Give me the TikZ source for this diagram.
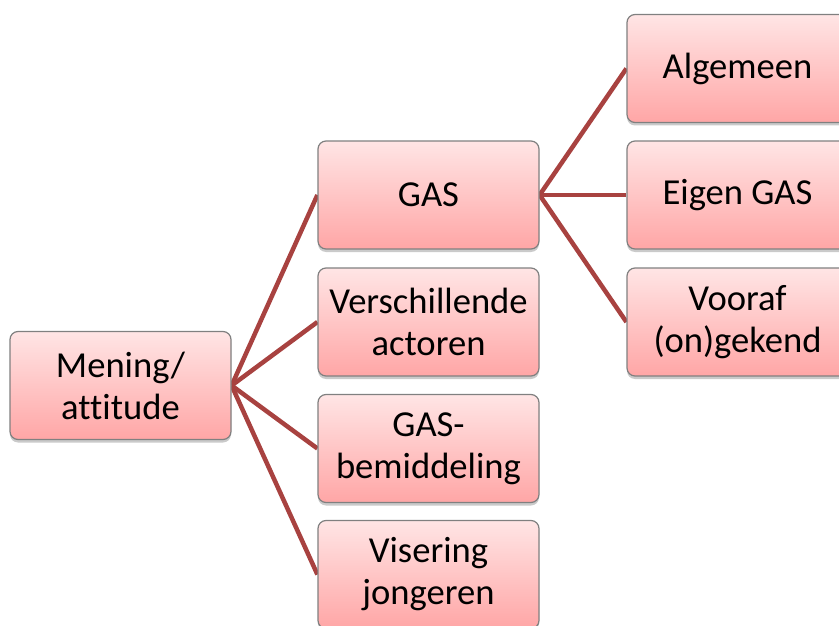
\documentclass[tikz,border=0pt]{standalone}
\usepackage{fontspec}
\setmainfont[Ligatures={NoCommon}]{Carlito}
\usetikzlibrary{shadows}
\pgfdeclarelayer{bg}
\pgfsetlayers{bg,main}
\definecolor{linkred}{RGB}{168,66,64}
\definecolor{boxtop}{RGB}{255,229,229}
\definecolor{boxbot}{RGB}{255,166,166}
\definecolor{boxedge}{RGB}{128,128,128}
\tikzset{
  box/.style={draw=boxedge, line width=1.2pt, rounded corners=8pt,
    top color=boxtop, bottom color=boxbot,
    minimum width=221pt, minimum height=108pt, inner sep=0pt,
    align=center, font=\fontsize{36.6}{42}\selectfont,
    drop shadow={shadow xshift=0pt, shadow yshift=-3pt, opacity=0.35, fill=black!60}},
  link/.style={draw=linkred, line width=4.5pt}
}
\begin{document}
\begin{tikzpicture}[x=1pt,y=-1pt]
\useasboundingbox (0,0) rectangle (839,626);
\clip (0,0) rectangle (839,626);
\node[box] (m) at (120.5,385.5) {Mening/\\attitude};
\node[box] (gas) at (428.5,195) {GAS};
\node[box] (va) at (428.5,322) {Verschillende\\actoren};
\node[box] (gb) at (428.5,448.5) {GAS-\\bemiddeling};
\node[box] (vj) at (428.5,574.5) {Visering\\jongeren};
\node[box] (alg) at (737.5,68.5) {Algemeen};
\node[box] (eg) at (737.5,195) {Eigen GAS};
\node[box] (vo) at (737.5,322) {Vooraf\\(on)gekend};
\begin{pgfonlayer}{bg}
\draw[link] (m.east) -- (gas.west);
\draw[link] (m.east) -- (va.west);
\draw[link] (m.east) -- (gb.west);
\draw[link] (m.east) -- (vj.west);
\draw[link] (gas.east) -- (alg.west);
\draw[link] (gas.east) -- (eg.west);
\draw[link] (gas.east) -- (vo.west);
\end{pgfonlayer}
\end{tikzpicture}
\end{document}
